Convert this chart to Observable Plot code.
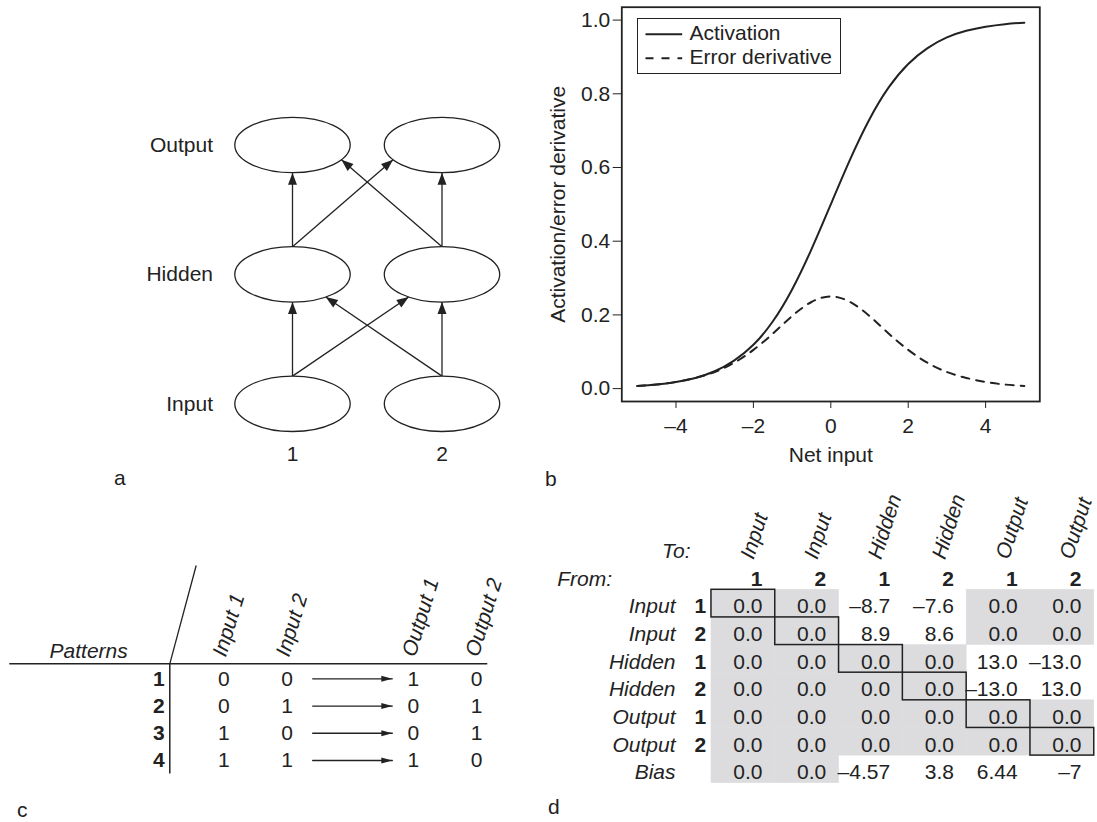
<!DOCTYPE html>
<html><head><meta charset="utf-8">
<script src="https://cdn.jsdelivr.net/npm/d3@7"></script>
<script src="https://cdn.jsdelivr.net/npm/@observablehq/plot@0.6"></script>
<style>
html,body{margin:0;padding:0;background:#fff;}
#fig{position:relative;width:1097px;height:822px;overflow:hidden;background:#fff;font-family:'Liberation Sans',Arial,Helvetica,sans-serif;font-size:21px;color:#222;}
.panel{position:absolute;}
.letter{position:absolute;font-size:21px;line-height:21px;}
#fig svg [aria-label^="x-axis"] text,#fig svg [aria-label^="y-axis"] text{font-size:21px;font-family:'Liberation Sans',Arial,Helvetica,sans-serif;}
</style></head>
<body><div id="fig"></div>
<script>
// ---------------- DATA ----------------
// Panel a: network
const layers = ["Input", "Hidden", "Output"];
const units = [1, 2];
const connections = [
  ["Input", 1, "Hidden", 1], ["Input", 1, "Hidden", 2],
  ["Input", 2, "Hidden", 1], ["Input", 2, "Hidden", 2],
  ["Hidden", 1, "Output", 1], ["Hidden", 1, "Output", 2],
  ["Hidden", 2, "Output", 1], ["Hidden", 2, "Output", 2]
];
// Panel b: curves
const netInput   = [-5, -4.5, -4, -3.5, -3, -2.5, -2, -1.5, -1, -0.5, 0, 0.5, 1, 1.5, 2, 2.5, 3, 3.5, 4, 4.5, 5];
const activation = [0.007, 0.011, 0.018, 0.029, 0.047, 0.076, 0.119, 0.182, 0.269, 0.378, 0.5, 0.622, 0.731, 0.818, 0.881, 0.924, 0.953, 0.971, 0.982, 0.989, 0.993];
const errorDeriv = [0.007, 0.011, 0.018, 0.029, 0.045, 0.070, 0.105, 0.149, 0.197, 0.235, 0.25, 0.235, 0.197, 0.149, 0.105, 0.070, 0.045, 0.029, 0.018, 0.011, 0.007];
const yTicksB = [0, 0.2, 0.4, 0.6, 0.8, 1.0];
const xTicksB = [-4, -2, 0, 2, 4];
const seriesNames = ["Activation", "Error derivative"];
// Panel c: patterns
const patternIds = [1, 2, 3, 4];
const inputNames = ["Input 1", "Input 2"];
const outputNames = ["Output 1", "Output 2"];
const patternInputs = [[0, 0], [0, 1], [1, 0], [1, 1]];
const patternOutputs = [[1, 0], [0, 1], [0, 1], [1, 0]];
// Panel d: weight matrix
const toLayers = ["Input", "Input", "Hidden", "Hidden", "Output", "Output"];
const toUnits = [1, 2, 1, 2, 1, 2];
const fromLayers = ["Input", "Input", "Hidden", "Hidden", "Output", "Output", "Bias"];
const fromUnits = [1, 2, 1, 2, 1, 2, null];
const weights = [
  [0, 0, -8.7, -7.6, 0, 0],
  [0, 0, 8.9, 8.6, 0, 0],
  [0, 0, 0, 0, 13.0, -13.0],
  [0, 0, 0, 0, -13.0, 13.0],
  [0, 0, 0, 0, 0, 0],
  [0, 0, 0, 0, 0, 0],
  [0, 0, -4.57, 3.8, 6.44, -7]
];

// ---------------- HELPERS ----------------
const INK = "#222";
const GRAY = "#dcdcde";
const FONT = "'Liberation Sans', Arial, Helvetica, sans-serif";
const baseStyle = {fontFamily: FONT, fontSize: "21px", color: INK, background: "transparent", overflow: "visible"};
const fig = document.getElementById("fig");
function place(node, left, top) {
  const d = document.createElement("div");
  d.className = "panel"; d.style.left = left + "px"; d.style.top = top + "px";
  d.appendChild(node); fig.appendChild(d); return d;
}
function letter(ch, left, top) {
  const d = document.createElement("div");
  d.className = "letter"; d.textContent = ch;
  d.style.left = left + "px"; d.style.top = top + "px"; fig.appendChild(d);
}
const dash = s => String(s).replace("-", "\u2013");
function ellipseSymbol(rx, ry) {
  const k = 0.5522847;
  return {draw(ctx) {
    ctx.moveTo(rx, 0);
    ctx.bezierCurveTo(rx, ry * k, rx * k, ry, 0, ry);
    ctx.bezierCurveTo(-rx * k, ry, -rx, ry * k, -rx, 0);
    ctx.bezierCurveTo(-rx, -ry * k, -rx * k, -ry, 0, -ry);
    ctx.bezierCurveTo(rx * k, -ry, rx, -ry * k, rx, 0);
    ctx.closePath();
  }};
}
function headSymbol(angle, len, wid) {
  const ux = Math.cos(angle), uy = Math.sin(angle), px = -uy, py = ux;
  return {draw(ctx) {
    ctx.moveTo(0, 0);
    ctx.lineTo(-ux * len + px * wid / 2, -uy * len + py * wid / 2);
    ctx.lineTo(-ux * len - px * wid / 2, -uy * len - py * wid / 2);
    ctx.closePath();
  }};
}

// ---------------- PANEL A ----------------
{
  const RX = 57.7, RY = 27.7;
  const xA = {domain: [1, 2], range: [292, 441.5]};
  const yA = {domain: [0, 2], range: [403.3, 144.5]};
  const sx = d3.scaleLinear(xA.domain, xA.range), sy = d3.scaleLinear(yA.domain, yA.range);
  const nodes = layers.flatMap((layer, li) => units.map(unit => ({layer, li, unit})));
  const arrows = connections.map(([fl, fu, tl, tu]) => {
    const li = layers.indexOf(fl), lj = layers.indexOf(tl);
    const cx1 = sx(tu), cy1 = sy(lj);
    const x0 = sx(fu), y0 = sy(li) - RY;
    const ax = cx1, ay = lj === layers.length - 1 ? cy1 - RY : cy1;
    const dx = ax - x0, dy = ay - y0, px = x0 - cx1, py = y0 - cy1;
    const A = dx * dx / (RX * RX) + dy * dy / (RY * RY);
    const B = 2 * (px * dx / (RX * RX) + py * dy / (RY * RY));
    const C = px * px / (RX * RX) + py * py / (RY * RY) - 1;
    const t = (-B - Math.sqrt(B * B - 4 * A * C)) / (2 * A);
    const ex = x0 + t * dx, ey = y0 + t * dy;
    return {x1: sx.invert(x0), y1: sy.invert(y0), x2: sx.invert(ex), y2: sy.invert(ey), angle: Math.atan2(ey - y0, ex - x0)};
  });
  const p = Plot.plot({
    width: 548, height: 500, margin: 0, style: baseStyle,
    x: {...xA, axis: null}, y: {...yA, axis: null},
    marks: [
      Plot.link(arrows, {x1: "x1", y1: "y1", x2: "x2", y2: "y2", stroke: INK, strokeWidth: 1.3}),
      Plot.dot(nodes, {x: "unit", y: "li", r: 10, symbol: ellipseSymbol(RX, RY), fill: "white", stroke: INK, strokeWidth: 1.3}),
      ...arrows.map(a => Plot.dot([a], {x: "x2", y: "y2", r: 5, symbol: headSymbol(a.angle, 12, 9), fill: INK, stroke: "none"})),
      Plot.text(layers, {x: 1, y: (d, i) => i, text: d => d, dx: -79.5, textAnchor: "end"}),
      Plot.text(units, {x: d => d, y: 0, text: d => String(d), dy: 50})
    ]
  });
  place(p, 0, 0);
  letter("a", 114, 467);
}

// ---------------- PANEL B ----------------
{
  const pts = (ys) => netInput.map((x, i) => ({x, y: ys[i]}));
  const p = Plot.plot({
    width: 557, height: 470,
    marginLeft: 81.3, marginRight: 57.7, marginTop: 6.7, marginBottom: 69,
    style: baseStyle,
    x: {domain: [-5.4, 5.4], ticks: xTicksB, tickFormat: dash, tickSize: 7, tickPadding: 10, label: null},
    y: {domain: [-0.035, 1.035], ticks: yTicksB, tickFormat: d => d.toFixed(1), tickSize: 8.6, tickPadding: 3, label: null},
    marks: [
      Plot.frame({stroke: INK, strokeWidth: 1.8}),
      Plot.line(pts(activation), {x: "x", y: "y", stroke: INK, strokeWidth: 2, curve: "natural"}),
      Plot.line(pts(errorDeriv), {x: "x", y: "y", stroke: INK, strokeWidth: 2, curve: "natural", strokeDasharray: "8,7"}),
      Plot.text(["Activation/error derivative"], {frameAnchor: "left", rotate: -90, text: d => d, dx: -63.3, textAnchor: "middle", lineAnchor: "middle"}),
      Plot.text(["Net input"], {frameAnchor: "bottom", text: d => d, dy: 54, textAnchor: "middle", lineAnchor: "middle"})
    ]
  });
  place(p, 540, 0);
  // legend
  const lg = document.createElement("div");
  lg.style.cssText = "position:absolute;left:636.7px;top:18.3px;width:204px;height:56px;box-sizing:border-box;border:1.8px solid " + INK + ";background:#fff;";
  const ns = "http://www.w3.org/2000/svg";
  const s = document.createElementNS(ns, "svg");
  s.setAttribute("width", 200); s.setAttribute("height", 52);
  s.style.cssText = "position:absolute;left:0;top:0;overflow:visible;font-family:" + FONT + ";font-size:21px;";
  seriesNames.forEach((name, i) => {
    const cy = 13.3 + i * 24;
    const ln = document.createElementNS(ns, "line");
    ln.setAttribute("x1", 7.5); ln.setAttribute("x2", 44.2);
    ln.setAttribute("y1", cy + 2); ln.setAttribute("y2", cy + 2);
    ln.setAttribute("stroke", INK); ln.setAttribute("stroke-width", 2);
    if (i === 1) ln.setAttribute("stroke-dasharray", "8,8");
    s.appendChild(ln);
    const tx = document.createElementNS(ns, "text");
    tx.setAttribute("x", 51.5); tx.setAttribute("y", cy); tx.setAttribute("dy", "0.35em");
    tx.setAttribute("fill", INK); tx.textContent = name;
    s.appendChild(tx);
  });
  lg.appendChild(s);
  fig.appendChild(lg);
  letter("b", 545, 468);
}

// ---------------- PANEL C ----------------
{
  const colPos = {"Input 1": 0, "Input 2": 1, "Output 1": 3, "Output 2": 4};
  const headers = [...inputNames, ...outputNames];
  const cells = patternIds.flatMap((id, r) => [
    ...patternInputs[r].map((v, j) => ({id, v, c: colPos[inputNames[j]]})),
    ...patternOutputs[r].map((v, j) => ({id, v, c: colPos[outputNames[j]]}))
  ]);
  const divX = -0.855; // divider column, in table units
  const p = Plot.plot({
    width: 520, height: 260, marginLeft: 9.3, marginRight: 32.7, marginTop: 0, marginBottom: 0,
    style: baseStyle,
    x: {domain: [0, 4], range: [223.3, 476], axis: null},
    y: {domain: [1, 4], range: [138.3, 220], axis: null},
    marks: [
      Plot.ruleY([0.45], {stroke: INK, strokeWidth: 1.5}),
      Plot.ruleX([divX], {y1: 0.45, y2: 4.5, stroke: INK, strokeWidth: 1.5}),
      Plot.link([0], {x1: divX, y1: 0.45, x2: divX + 0.418, y2: -3.16, stroke: INK, strokeWidth: 1.3}),
      Plot.text(["Patterns"], {x: divX, y: 0.45, text: d => d, dx: -42, dy: -13, textAnchor: "end", fontStyle: "italic"}),
      Plot.text(headers, {x: d => colPos[d], y: 0.45, text: d => d, rotate: -73, textAnchor: "start", lineAnchor: "bottom", dx: 2, dy: -6, fontStyle: "italic"}),
      Plot.text(patternIds, {x: divX, y: d => d, text: d => String(d), dx: -5, textAnchor: "end", fontWeight: "bold"}),
      Plot.text(cells, {x: "c", y: "id", text: d => String(d.v)}),
      Plot.arrow(patternIds, {x1: colPos["Input 2"], x2: colPos["Output 1"], y1: d => d, y2: d => d, insetStart: 25.7, insetEnd: 21, headLength: 0, stroke: INK, strokeWidth: 1.3}),
      Plot.dot(patternIds, {x: colPos["Output 1"], y: d => d, dx: -21, r: 3, symbol: headSymbol(0, 11, 6), fill: INK, stroke: "none"})
    ]
  });
  place(p, 0, 540);
  letter("c", 17, 799);
}

// ---------------- PANEL D ----------------
{
  const cells = weights.flatMap((row, r) => row.map((v, c) => ({
    row: r + 1, col: c + 1, v,
    label: v === 0 ? "0.0" : dash(r < weights.length - 1 ? v.toFixed(1) : String(v))
  })));
  const diag = cells.filter(d => d.row === d.col);
  const p = Plot.plot({
    width: 557, height: 320, margin: 0, style: baseStyle,
    x: {domain: [1, 6], range: [222, 541], axis: null},
    y: {domain: [1, 7], range: [123.1, 288.9], axis: null},
    marks: [
      Plot.rect(cells.filter(d => d.v === 0), {x1: d => d.col - 0.8, x2: d => d.col + 0.2, y1: d => d.row - 0.5, y2: d => d.row + 0.5, fill: GRAY, stroke: GRAY, strokeWidth: 0.5}),
      Plot.rect(diag, {x1: d => d.col - 0.8, x2: d => d.col + 0.2, y1: d => d.row - 0.5, y2: d => d.row + 0.5, fill: "none", stroke: INK, strokeWidth: 1.5}),
      Plot.text(cells, {x: "col", y: "row", text: "label", textAnchor: "end", dy: 3}),
      Plot.text(toLayers, {x: (d, i) => i + 1, y: -1, text: d => d, rotate: -72, textAnchor: "start", lineAnchor: "bottom", dx: -9, dy: 12, fontStyle: "italic"}),
      Plot.text(toUnits, {x: (d, i) => i + 1, y: 0, text: d => String(d), textAnchor: "end", dy: 3, fontWeight: "bold"}),
      Plot.text(fromLayers, {x: 1, y: (d, i) => i + 1, text: d => d, dx: -87, dy: 3, textAnchor: "end", fontStyle: "italic"}),
      Plot.text(fromUnits.map((u, i) => ({u, i})).filter(d => d.u != null), {x: 1, y: d => d.i + 1, text: d => String(d.u), dx: -56.3, dy: 3, textAnchor: "end", fontWeight: "bold"}),
      Plot.text(["To:"], {x: 1, y: -1, text: d => d, dx: -72, dy: 3, textAnchor: "end", fontStyle: "italic"}),
      Plot.text(["From:"], {x: 1, y: 0, text: d => d, dx: -205.3, dy: 3, textAnchor: "start", fontStyle: "italic"})
    ]
  });
  place(p, 540, 480);
  letter("d", 548, 796);
}
</script></body></html>
